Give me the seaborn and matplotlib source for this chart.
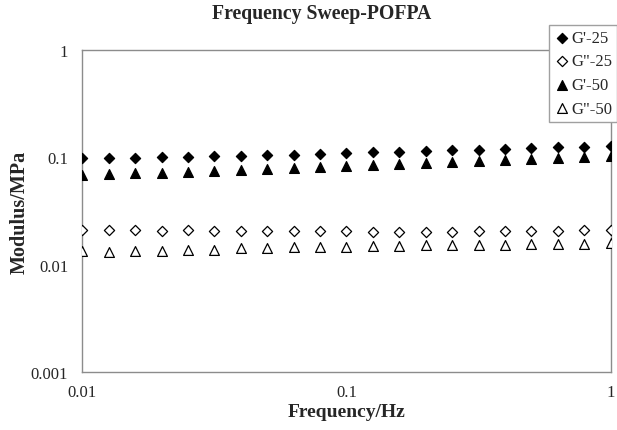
import numpy as np
import matplotlib
matplotlib.use("Agg")
import matplotlib.pyplot as plt
import seaborn as sns

# Frequency sweep (Hz), 10 points per decade from 0.01 to 1
freq = [0.01, 0.0126, 0.0158, 0.02, 0.0251, 0.0316, 0.0398, 0.0501, 0.0631, 0.0794,
        0.1, 0.126, 0.158, 0.2, 0.251, 0.316, 0.398, 0.501, 0.631, 0.794, 1.0]

# Storage / loss moduli (MPa) at 25 and 50 °C
g1_25 = [0.099, 0.099, 0.099, 0.100, 0.100, 0.102, 0.103, 0.104, 0.106, 0.107, 0.109,
         0.111, 0.112, 0.114, 0.116, 0.118, 0.120, 0.122, 0.124, 0.126, 0.128]
g2_25 = [0.0210, 0.0212, 0.0211, 0.0208, 0.0210, 0.0206, 0.0206, 0.0205, 0.0205, 0.0204,
         0.0204, 0.0203, 0.0203, 0.0203, 0.0203, 0.0204, 0.0205, 0.0206, 0.0207, 0.0209, 0.0210]
g1_50 = [0.069, 0.070, 0.071, 0.072, 0.073, 0.075, 0.076, 0.078, 0.080, 0.081, 0.083,
         0.085, 0.087, 0.089, 0.091, 0.093, 0.095, 0.097, 0.099, 0.101, 0.103]
g2_50 = [0.0133, 0.0130, 0.0135, 0.0134, 0.0136, 0.0138, 0.0142, 0.0142, 0.0145, 0.0145,
         0.0147, 0.0149, 0.0150, 0.0151, 0.0152, 0.0153, 0.0154, 0.0155, 0.0156, 0.0157, 0.0158]

series_labels = ["G'-25", 'G"-25', "G'-50", 'G"-50']
x_ticks = [0.01, 0.1, 1]
x_ticklabels = ["0.01", "0.1", "1"]
y_ticks = [0.001, 0.01, 0.1, 1]
y_ticklabels = ["0.001", "0.01", "0.1", "1"]

sns.set_style("white")
plt.rcParams["font.family"] = ["Liberation Serif", "DejaVu Serif"]

fig = plt.figure(figsize=(6.17, 4.31), dpi=100)
ax = fig.add_axes([0.133, 0.1346, 0.857, 0.7471])

styles = [
    (g1_25, "D", "black", 27),
    (g2_25, "D", "white", 27),
    (g1_50, "^", "black", 50),
    (g2_50, "^", "white", 50),
]
for (vals, mk, fc, size), lab in zip(styles, series_labels):
    sns.scatterplot(x=freq, y=vals, marker=mk, s=size, facecolors=fc,
                    edgecolors="black", linewidth=0.9, label=lab, ax=ax,
                    legend=True, zorder=3)

ax.set_xscale("log")
ax.set_yscale("log")
ax.set_xlim(0.01, 1)
ax.set_ylim(0.001, 1)
ax.set_xticks(x_ticks)
ax.set_xticklabels(x_ticklabels)
ax.set_yticks(y_ticks)
ax.set_yticklabels(y_ticklabels)
ax.minorticks_off()

for sp in ax.spines.values():
    sp.set_color("#8c8c8c")
    sp.set_linewidth(1.0)
ax.tick_params(axis="both", which="major", direction="out", length=4,
               width=1.0, color="#8c8c8c", labelsize=12, pad=6)
ax.tick_params(axis="x", pad=5)

ax.set_xlabel("Frequency/Hz", fontsize=14, fontweight="bold", labelpad=1.5)
ax.set_ylabel("Modulus/MPa", fontsize=14.5, fontweight="bold", labelpad=1)

fig.text(322 / 617, 1 - 14 / 431, "Frequency Sweep-POFPA", ha="center", va="center",
         fontsize=14.2, fontweight="bold")

handles, labels = ax.get_legend_handles_labels()
ax.get_legend().remove()
leg = fig.legend(handles, labels, loc="upper right", bbox_to_anchor=(1.0, 1 - 26 / 431),
                 fontsize=12, frameon=True, fancybox=False, framealpha=1,
                 edgecolor="#a0a0a0", handletextpad=0.05, handlelength=1.0,
                 borderpad=0.3, labelspacing=0.45, borderaxespad=0.0)
leg.get_frame().set_linewidth(1.0)

fig.savefig("out.png", dpi=100, facecolor="white")
